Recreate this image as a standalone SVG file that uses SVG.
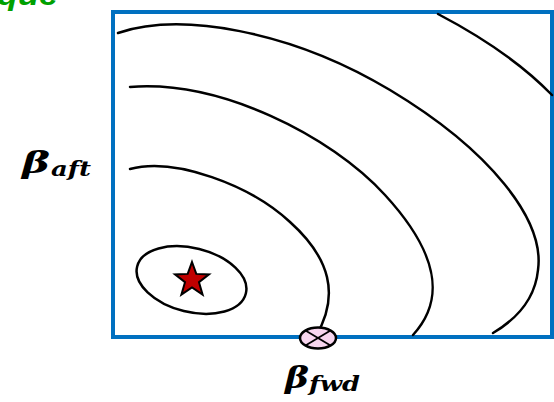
<svg xmlns="http://www.w3.org/2000/svg" width="554" height="402" viewBox="0 0 554 402">
<style>
.contour{fill:none;stroke:#000;stroke-width:2.5;stroke-linecap:round}
.lbl{font-family:"DejaVu Serif","Liberation Serif",serif;font-weight:bold;font-style:italic;fill:#000}
</style>
<rect width="554" height="402" fill="#fff"/>
<text x="-3" y="5" font-family="Liberation Sans, Arial, sans-serif" font-weight="bold" font-style="italic" font-size="30" fill="#00A000" textLength="61" lengthAdjust="spacingAndGlyphs">que</text>
<g id="frame"><rect x="113" y="12" width="439" height="325" fill="none" stroke="#0070C0" stroke-width="4"/></g>
<g id="contours">
<path class="contour" d="M130,169 C175,157 250,185 290,222 C330,258 340,295 316,336"/>
<path class="contour" d="M130,87 C220,80 330,135 385,195 C440,255 445,300 413,335"/>
<path class="contour" d="M118,33 C180,12 290,30 390,90 C490,150 545,220 538,270 C535,300 515,320 493,333"/>
<path class="contour" d="M438,14 C480,36 520,62 552,95"/>
</g>
<g id="optimum">
<ellipse cx="191.5" cy="280" rx="56" ry="32" transform="rotate(14 191.5 280)" fill="none" stroke="#000" stroke-width="2.5"/>
<polygon points="192,262 196.3,273.9 209,274.4 199,282.2 202.6,294.6 192,287.5 181.4,294.6 185,282.2 175,274.4 187.7,273.9" fill="#C00000" stroke="#000" stroke-width="2" stroke-linejoin="miter"/>
</g>
<g id="marker">
<ellipse cx="318" cy="338" rx="18" ry="10.5" fill="#F7D5EE" stroke="#000" stroke-width="2.5"/>
<line x1="305.5" y1="330.5" x2="330.5" y2="345.5" stroke="#000" stroke-width="1.8"/>
<line x1="330.5" y1="330.5" x2="305.5" y2="345.5" stroke="#000" stroke-width="1.8"/>
</g>
<g id="label-aft">
<text class="lbl" x="22" y="173" font-size="30" textLength="28" lengthAdjust="spacingAndGlyphs">β</text>
<text class="lbl" x="51" y="176" font-size="20" textLength="40" lengthAdjust="spacingAndGlyphs">aft</text>
</g>
<g id="label-fwd">
<text class="lbl" x="285" y="388" font-size="30" textLength="24" lengthAdjust="spacingAndGlyphs">β</text>
<text class="lbl" x="309" y="391" font-size="20" textLength="51" lengthAdjust="spacingAndGlyphs">fwd</text>
</g>
</svg>
